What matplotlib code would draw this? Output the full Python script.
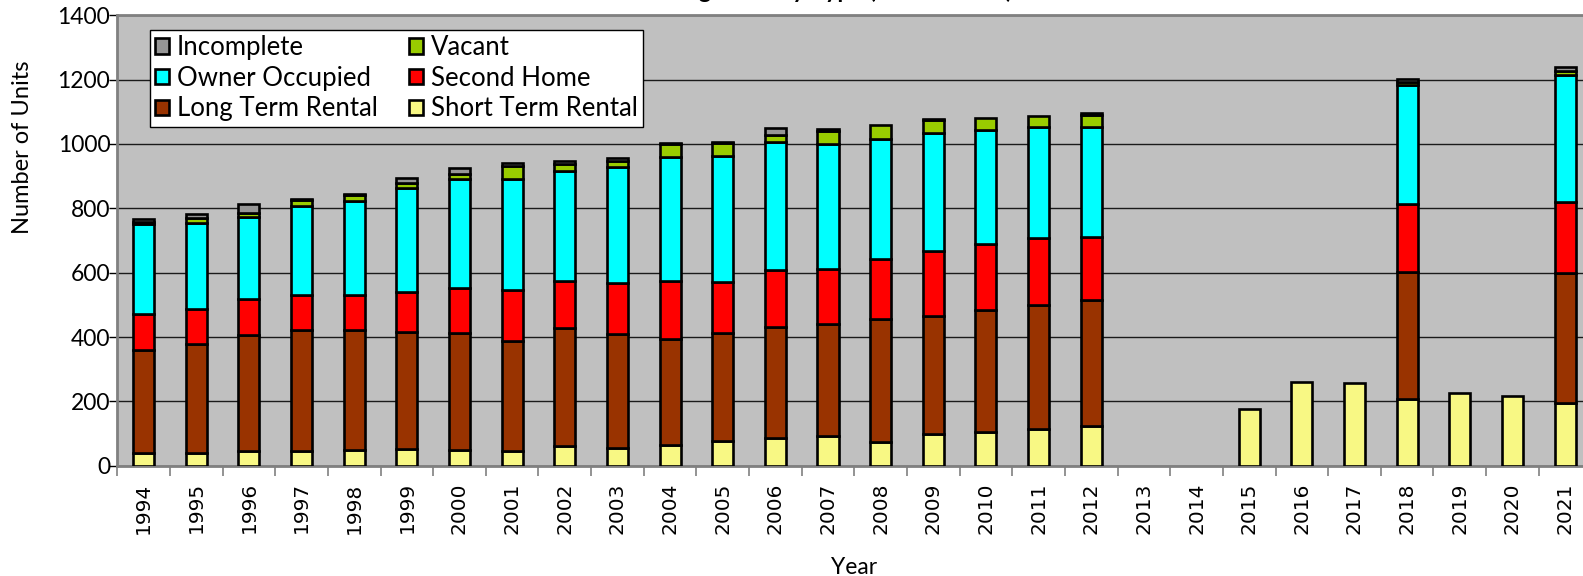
import matplotlib
matplotlib.use('Agg')
import matplotlib.pyplot as plt
import numpy as np

# data (bottom to top of each stack)
years = [str(y) for y in range(1994, 2022)]
short_term = [40, 40, 47, 47, 50, 53, 49, 47, 62, 54, 64, 77, 87, 92, 75, 98, 106, 113, 124,
              0, 0, 176, 260, 256, 208, 225, 218, 194]
long_term = [320, 338, 359, 375, 372, 363, 364, 341, 365, 354, 329, 335, 343, 348, 381, 368, 377, 388, 390,
             0, 0, 0, 0, 0, 393, 0, 0, 404]
second_home = [110, 108, 112, 109, 110, 123, 140, 158, 148, 161, 180, 158, 178, 170, 185, 200, 206, 208, 197,
               0, 0, 0, 0, 0, 211, 0, 0, 222]
owner_occ = [280, 269, 254, 277, 292, 325, 337, 344, 340, 358, 388, 392, 398, 390, 374, 369, 356, 344, 342,
             0, 0, 0, 0, 0, 371, 0, 0, 395]
vacant = [8, 14, 14, 18, 18, 14, 16, 42, 22, 20, 40, 40, 22, 40, 45, 40, 36, 34, 38,
          0, 0, 0, 0, 0, 10, 0, 0, 12]
incomplete = [8, 12, 26, 4, 4, 16, 20, 10, 10, 10, 3, 3, 22, 6, 0, 3, 0, 0, 5,
              0, 0, 0, 0, 0, 10, 0, 0, 12]

series = [
    ('Short Term Rental', short_term, '#F8F884'),
    ('Long Term Rental', long_term, '#993300'),
    ('Second Home', second_home, '#FF0000'),
    ('Owner Occupied', owner_occ, '#00FFFF'),
    ('Vacant', vacant, '#99CC00'),
    ('Incomplete', incomplete, '#969696'),
]

plt.rcParams['font.family'] = ['Lato', 'DejaVu Sans']

fig = plt.figure(figsize=(15.83, 5.76), dpi=100)
ax = fig.add_axes([0.0741, 0.1915, 0.9312, 0.7819])
ax.set_facecolor('#C0C0C0')

x = np.arange(len(years))
bottom = np.zeros(len(years))
handles = {}
for name, vals, col in series:
    v = np.array(vals, dtype=float)
    m = v > 0
    b = ax.bar(x[m], v[m], bottom=bottom[m], width=0.4, color=col,
               edgecolor='black', linewidth=1.9, zorder=3, label=name)
    handles[name] = b
    bottom += v

ax.set_xlim(-0.5, len(years) - 0.5)
ax.set_ylim(0, 1400)
ax.set_yticks(np.arange(0, 1401, 200))
ax.yaxis.grid(True, color='#1a1a1a', linewidth=1.0, zorder=1)
ax.set_axisbelow(True)

ax.set_xticks(x)
ax.set_xticklabels(years, rotation=90, fontsize=14.5, family='DejaVu Sans')
ax.set_xticks(np.arange(-0.5, len(years), 1), minor=True)
ax.tick_params(axis='x', which='major', length=0, pad=12)
ax.tick_params(axis='x', which='minor', length=7, width=1.2, color='#808080')
ax.tick_params(axis='y', length=6, width=1.0, labelsize=16.5, pad=-1)

for s in ['left', 'bottom', 'top']:
    ax.spines[s].set_color('#808080')
    ax.spines[s].set_linewidth(2)
ax.spines['right'].set_visible(False)

ax.set_ylabel('Number of Units', fontsize=17)
ax.yaxis.set_label_coords(-0.057, 0.708)
ax.set_xlabel('Year', fontsize=16.5)
ax.xaxis.set_label_coords(0.5, -0.203)

order = ['Incomplete', 'Owner Occupied', 'Long Term Rental', 'Vacant', 'Second Home', 'Short Term Rental']
leg = ax.legend([handles[k] for k in order], order, ncol=2, loc='upper left',
                bbox_to_anchor=(0.0222, 0.9674), fontsize=18.5, frameon=True, fancybox=False,
                edgecolor='black', framealpha=1, handlelength=0.55, handleheight=0.55,
                handletextpad=0.3, columnspacing=1.2, labelspacing=0.22, borderpad=0.2,
                borderaxespad=0)
leg.get_frame().set_linewidth(1.0)

# title sits mostly above the picture, as in the source image
fig.text(1012 / 1583, 1.003, 'Housing Units by Type (1994 - 2021)', ha='right', va='baseline',
         fontsize=17, fontweight='bold')

fig.savefig('out.png', dpi=100)
